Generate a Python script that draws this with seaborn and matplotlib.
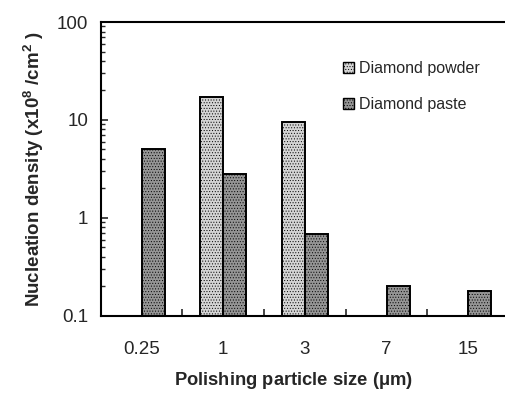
import numpy as np
import pandas as pd
import matplotlib
matplotlib.use("Agg")
import matplotlib.pyplot as plt
import seaborn as sns
from matplotlib.ticker import LogLocator, FixedLocator, NullFormatter, FuncFormatter
from matplotlib.patches import Patch

# ---- data ----
sizes = ["0.25", "1", "3", "7", "15"]
powder = [np.nan, 17.0, 9.6, np.nan, np.nan]
paste = [5.0, 2.8, 0.68, 0.20, 0.18]
series_names = ["Diamond powder", "Diamond paste"]
colors = ["#d4d4d4", "#959595"]

df = pd.DataFrame({
    "size": sizes * 2,
    "type": [series_names[0]] * len(sizes) + [series_names[1]] * len(sizes),
    "value": powder + paste,
})

sns.set_style("ticks")
plt.rcParams["font.family"] = ["Liberation Sans", "DejaVu Sans"]
plt.rcParams["hatch.linewidth"] = 0.4

fig = plt.figure(figsize=(5.06, 3.93), dpi=100)
ax = fig.add_axes([0.199, 0.196, 0.807, 0.748])
ax.set_yscale("log")

sns.barplot(data=df, x="size", y="value", hue="type", order=sizes,
            hue_order=series_names, palette=colors, width=0.57,
            errorbar=None, edgecolor="black", linewidth=1.4, ax=ax,
            legend=False)

for bar in ax.patches:
    bar.set_hatch("......")

ax.set_ylim(0.1, 100)
ax.set_xlim(-0.5, 4.5)

ax.yaxis.set_major_locator(FixedLocator([0.1, 1, 10, 100]))
ax.yaxis.set_major_formatter(FuncFormatter(lambda v, p: f"{v:g}"))
ax.yaxis.set_minor_locator(LogLocator(base=10, subs=np.arange(2, 10)))
ax.yaxis.set_minor_formatter(NullFormatter())
ax.tick_params(axis="y", which="major", direction="in", length=5, width=1.2,
               labelsize=13.5, pad=9)
ax.tick_params(axis="y", which="minor", direction="in", length=3, width=1.0)

ax.xaxis.set_minor_locator(FixedLocator([0.5, 1.5, 2.5, 3.5]))
ax.tick_params(axis="x", which="major", length=0, labelsize=13.5, pad=18)
ax.tick_params(axis="x", which="minor", direction="in", length=5, width=1.2)

for side in ["left", "bottom", "top"]:
    ax.spines[side].set_linewidth(1.5)
    ax.spines[side].set_color("black")
ax.spines["right"].set_visible(False)

ax.set_xlabel("Polishing particle size ($\\mathregular{\\mu}$m)", fontsize=13.2,
              fontweight="bold")
ax.xaxis.set_label_coords(0.473, -0.183)
ax.set_ylabel("Nucleation density (x10$\\mathregular{^8}$ /cm$\\mathregular{^2}$ )",
              fontsize=13.5, fontweight="bold", labelpad=8)

handles = [Patch(facecolor=c, edgecolor="black", hatch="......", linewidth=1.0)
           for c in colors]
ax.legend(handles, series_names, loc="upper left",
          bbox_to_anchor=(0.665, 0.86), bbox_transform=fig.transFigure,
          frameon=False, fontsize=11.5, handlelength=0.7, handleheight=0.7,
          handletextpad=0.3, labelspacing=1.3, borderaxespad=0)

fig.savefig("out.png", dpi=100)
